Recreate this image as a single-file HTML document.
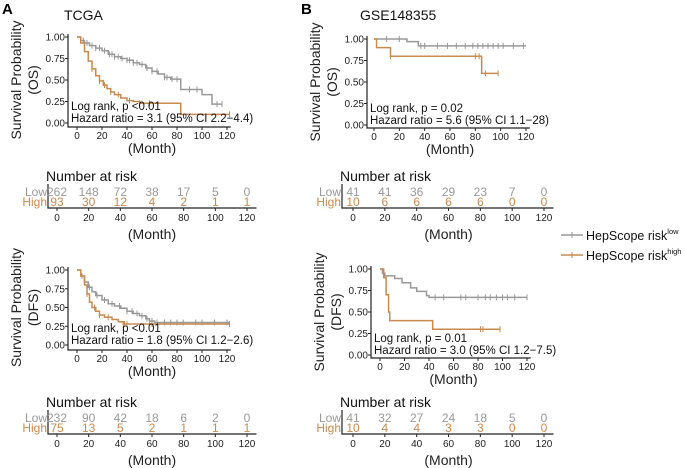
<!DOCTYPE html>
<html><head><meta charset="utf-8">
<style>
body{margin:0;background:#fff;}
svg{display:block;font-family:"Liberation Sans",Arial,sans-serif;}
</style></head>
<body>
<svg id="fig" width="685" height="468" viewBox="0 0 685 468"></svg>
<script>
// ---- data ----
const xTicks = [0,20,40,60,80,100,120];
const yTicks = [0,0.25,0.5,0.75,1];
const yTickLabels = ["0.00","0.25","0.50","0.75","1.00"];

const aOsLowT = [0,3,6,10,15,20,25,30,35,40,45,50,55,60,65,70,75,80,83,90,100,108,116];
const aOsLowS = [1,0.96,0.93,0.9,0.87,0.84,0.8,0.77,0.75,0.73,0.7,0.68,0.64,0.6,0.57,0.53,0.51,0.51,0.39,0.39,0.33,0.22,0.22];
const aOsLowC = [5,8,12,15,18,22,26,28,30,33,36,40,42,45,48,52,56,60,64,70,72,76,80,90,96,112,116];
const aOsHighT = [0,3,6,9,12,15,18,21,24,27,30,35,40,45,50,60,70,83,122];
const aOsHighS = [1,0.93,0.83,0.72,0.63,0.55,0.49,0.44,0.4,0.36,0.33,0.29,0.26,0.25,0.23,0.23,0.23,0.1,0.1];
const aOsHighC = [12,18,22,27,33,42,50,58,122];

const aDfsLowT = [0,3,6,9,12,15,20,25,30,35,40,45,50,55,58,62,122];
const aDfsLowS = [1,0.92,0.84,0.77,0.71,0.66,0.6,0.55,0.52,0.49,0.45,0.42,0.39,0.35,0.32,0.3,0.3];
const aDfsLowC = [4,10,16,22,28,34,40,44,48,52,56,58,60,64,70,75,80,85,95,100,110,120];
const aDfsHighT = [0,3,6,8,10,12,15,18,22,28,33,37,122];
const aDfsHighS = [1,0.92,0.8,0.68,0.57,0.5,0.45,0.4,0.37,0.34,0.31,0.28,0.28];
const aDfsHighC = [8,14,18,25,38,40,60,122];

const bOsLowT = [0,22,26,35,120];
const bOsLowS = [1,1,0.97,0.92,0.92];
const bOsLowC = [10,20,37,40,50,58,65,72,78,82,86,90,94,98,102,110,118];
const bOsHighT = [0,2,13,84,85,98];
const bOsHighS = [1,0.9,0.8,0.8,0.6,0.6];
const bOsHighC = [13,80,83,88,98];

const bDfsLowT = [0,2,4,12,18,25,30,38,40,120];
const bDfsLowS = [1,0.95,0.92,0.89,0.84,0.78,0.74,0.69,0.67,0.67];
const bDfsLowC = [45,52,66,70,80,86,90,95,100,104,110,120];
const bDfsHighT = [0,3,5,7,8,42,43,98];
const bDfsHighS = [1,0.9,0.7,0.5,0.4,0.4,0.3,0.3];
const bDfsHighC = [82,84,98];

const aOsRiskLow = [262,148,72,38,17,5,0];
const aOsRiskHigh = [93,30,12,4,2,1,1];
const bOsRiskLow = [41,41,36,29,23,7,0];
const bOsRiskHigh = [10,6,6,6,6,0,0];
const aDfsRiskLow = [232,90,42,18,6,2,0];
const aDfsRiskHigh = [75,13,5,2,1,1,1];
const bDfsRiskLow = [41,32,27,24,18,5,0];
const bDfsRiskHigh = [10,4,4,3,3,0,0];

const GREY = "#999999", ORANGE = "#c98a4f";
const NS = "http://www.w3.org/2000/svg";
const svg = document.getElementById("fig");
function mk(tag, attrs, parent){
  const e = document.createElementNS(NS, tag);
  for (const k in attrs) e.setAttribute(k, attrs[k]);
  (parent||svg).appendChild(e);
  return e;
}
function txt(s, attrs, parent){ const e = mk("text", attrs, parent); e.textContent = s; return e; }

function panel(name, cfg, low, high, stat1, stat2, ylab2){
  const g = mk("g", {});
  
  
  const xs = t => cfg.x0 + (cfg.x120 - cfg.x0) * t / 120;
  const ys = s => cfg.y0 + (cfg.y1 - cfg.y0) * s;
  const ax = mk("path", {d:`M${cfg.ax},${cfg.y1-3}V${cfg.bot}H${xs(123)}`, stroke:"#222", fill:"none", "stroke-width":1.2}, g);
  
  
  yTicks.forEach((v,i)=>{
    mk("line",{x1:cfg.ax-3,x2:cfg.ax,y1:ys(v),y2:ys(v),stroke:"#222"},g);
    const t = txt(yTickLabels[i],{x:cfg.ax-3,y:ys(v)+3.5,"font-size":10,"text-anchor":"end",fill:"#222"},g);
    
    
  });
  xTicks.forEach(v=>{
    mk("line",{x1:xs(v),x2:xs(v),y1:cfg.bot,y2:cfg.bot+3,stroke:"#222"},g);
    const t = txt(String(v),{x:xs(v),y:cfg.bot+12,"font-size":10,"text-anchor":"middle",fill:"#222"},g);
    
    
  });
  const xt = txt("(Month)",{x:(xs(0)+xs(120))/2,y:cfg.bot+26,"font-size":14,"text-anchor":"middle",fill:"#222"},g);
  
  
  const cy = (ys(0)+ys(1))/2;
  const yt = txt("Survival Probability",{x:0,y:0,"font-size":14,"text-anchor":"middle",fill:"#222",transform:`translate(${cfg.ax-47},${cy}) rotate(-90)`},g);
  
  
  const yt2 = txt(ylab2,{x:0,y:0,"font-size":14,"text-anchor":"middle",fill:"#222",transform:`translate(${cfg.ax-30},${cy}) rotate(-90)`},g);
  
  
  [[low,GREY,'low-risk-curve'],[high,ORANGE,'high-risk-curve']].forEach(([c,col,nm])=>{
    const [T,S,C] = c;
    let d = `M${xs(T[0])},${ys(S[0])}`;
    for (let i=1;i<T.length;i++) d += `H${xs(T[i])}V${ys(S[i])}`;
    const p = mk("path",{d,stroke:col,fill:"none","stroke-width":1.5},g);
    
    
    C.forEach(t=>{
      let s = S[0];
      for (let i=0;i<T.length;i++) if (T[i]<=t) s = S[i];
      const m = mk("path",{d:`M${xs(t)},${ys(s)-3}V${ys(s)+3}`,stroke:col,"stroke-width":1},g);
      
      
    });
  });
  const s1 = txt(stat1,{x:cfg.ax+3,y:ys(0)-13,"font-size":11.5,fill:"#111"},g);
  
  
  const s2 = txt(stat2,{x:cfg.ax+3,y:ys(0)-1,"font-size":11.5,fill:"#111"},g);
  
  
}

function riskTable(name, cfg, low, high){
  const g = mk("g", {});
  
  
  const xs = t => cfg.x0 + (cfg.x120 - cfg.x0) * t / 120;
  const h = txt("Number at risk",{x:cfg.ax-2,y:cfg.line-27,"font-size":14,fill:"#111"},g);
  
  
  mk("path",{d:`M${cfg.ax},${cfg.line-24}V${cfg.line}H${xs(126)}`,stroke:"#222",fill:"none","stroke-width":1.2},g);
  const l1 = txt("Low",{x:cfg.ax-1,y:cfg.line-12,"font-size":12,"text-anchor":"end",fill:GREY},g);
  
  
  const l2 = txt("High",{x:cfg.ax-1,y:cfg.line-2,"font-size":12,"text-anchor":"end",fill:ORANGE},g);
  
  
  xTicks.forEach((v,i)=>{
    const a = txt(String(low[i]),{x:xs(v),y:cfg.line-12,"font-size":12,"text-anchor":"middle",fill:GREY},g);
    
    
    const b = txt(String(high[i]),{x:xs(v),y:cfg.line-2,"font-size":12,"text-anchor":"middle",fill:ORANGE},g);
    
    
    mk("line",{x1:xs(v),x2:xs(v),y1:cfg.line,y2:cfg.line+3,stroke:"#222"},g);
    const t = txt(String(v),{x:xs(v),y:cfg.line+13,"font-size":10,"text-anchor":"middle",fill:"#222"},g);
    
    
  });
  const m = txt("(Month)",{x:(xs(0)+xs(120))/2,y:cfg.line+31,"font-size":14,"text-anchor":"middle",fill:"#222"},g);
  
  
}

const la = txt("A",{x:2,y:14,"font-size":15,"font-weight":"bold",fill:"#000"});


const lb = txt("B",{x:301,y:14,"font-size":15,"font-weight":"bold",fill:"#000"});


const ta = txt("TCGA",{x:64,y:20,"font-size":14,fill:"#111"});


const tb = txt("GSE148355",{x:360,y:20,"font-size":14,fill:"#111"});



panel("tcga-os-plot",{ax:68,x0:77,x120:227,y1:37,y0:123,bot:127},
  [aOsLowT,aOsLowS,aOsLowC],[aOsHighT,aOsHighS,aOsHighC],
  "Log rank, p <0.01","Hazard ratio = 3.1 (95% CI 2.2\u22124.4)","(OS)");
panel("tcga-dfs-plot",{ax:68,x0:77,x120:227,y1:270,y0:345,bot:350},
  [aDfsLowT,aDfsLowS,aDfsLowC],[aDfsHighT,aDfsHighS,aDfsHighC],
  "Log rank, p <0.01","Hazard ratio = 1.8 (95% CI 1.2\u22122.6)","(DFS)");
panel("gse-os-plot",{ax:367,x0:374,x120:526,y1:39,y0:125,bot:128},
  [bOsLowT,bOsLowS,bOsLowC],[bOsHighT,bOsHighS,bOsHighC],
  "Log rank, p = 0.02","Hazard ratio = 5.6 (95% CI 1.1\u221228)","(OS)");
panel("gse-dfs-plot",{ax:371,x0:380,x120:527,y1:269,y0:355,bot:358},
  [bDfsLowT,bDfsLowS,bDfsLowC],[bDfsHighT,bDfsHighS,bDfsHighC],
  "Log rank, p = 0.01","Hazard ratio = 3.0 (95% CI 1.2\u22127.5)","(DFS)");

riskTable("tcga-os-risk-table",{ax:48,x0:57,x120:247,line:208},aOsRiskLow,aOsRiskHigh);
riskTable("tcga-dfs-risk-table",{ax:48,x0:57,x120:247,line:434},aDfsRiskLow,aDfsRiskHigh);
riskTable("gse-os-risk-table",{ax:342,x0:353,x120:544,line:208},bOsRiskLow,bOsRiskHigh);
riskTable("gse-dfs-risk-table",{ax:342,x0:353,x120:544,line:434},bDfsRiskLow,bDfsRiskHigh);

[[GREY,"low",235,"legend-entry-low"],[ORANGE,"high",255,"legend-entry-high"]].forEach(([c,sup,y,nm])=>{
  const g = mk("g",{});
  
  
  mk("line",{x1:561,x2:583,y1:y,y2:y,stroke:c,"stroke-width":1.5},g);
  mk("line",{x1:572,x2:572,y1:y-3,y2:y+3,stroke:c,"stroke-width":1},g);
  const t = mk("text",{x:586,y:y+5,"font-size":12.5,fill:"#111"},g);
  t.textContent = "HepScope risk";
  const ts = mk("tspan",{"font-size":7.5,dy:-6},t);
  ts.textContent = sup;
});
</script>
</body></html>
